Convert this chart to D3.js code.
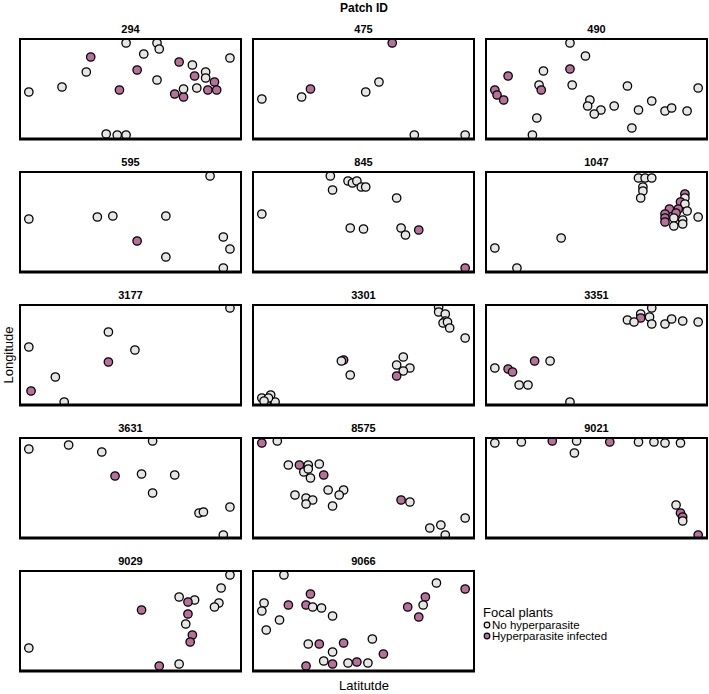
<!DOCTYPE html>
<html><head><meta charset="utf-8">
<script src="https://cdn.jsdelivr.net/npm/d3@7/dist/d3.min.js"></script>
<style>html,body{margin:0;padding:0;background:#fff;} svg{display:block;}</style>
</head><body>
<script>
// Patch IDs (facet order)
const patchIds = ["294","475","490","595","845","1047","3177","3301","3351","3631","8575","9021","9029","9066"];
// Each point: [latitude (relative), longitude (relative), infected 0/1]
const p294 = [[4,47,0],[19,52,0],[30,67,0],[32,82,1],[45,49,1],[48,96,0],[53,69,1],[56,85,0],[62,96,0],[63,90,0],[62,59,0],[72,77,1],[78,74,0],[70,45,1],[74,42,1],[74,50,0],[79,63,1],[84,67,0],[84,61,0],[80,51,0],[85,49,1],[88,57,1],[89,49,1],[95,81,0],[39,5,0],[44,4,0],[48,4,0]];
const p475 = [[4,40,0],[22,42,0],[26,50,1],[51,47,0],[57,57,0],[63,96,1],[73,4,0],[96,4,0]];
const p490 = [[38,96,0],[45,83,0],[38,70,1],[26,68,0],[10,63,1],[4,49,1],[5,44,1],[8,39,1],[24,54,0],[25,49,1],[39,54,0],[23,21,0],[21,4,0],[47,39,0],[46,33,0],[52,29,0],[49,25,0],[58,33,0],[64,53,0],[69,29,0],[66,11,0],[75,38,0],[81,28,0],[84,31,0],[91,28,0],[96,51,0]];
const p595 = [[4,53,0],[35,55,0],[42,56,0],[66,56,0],[53,31,1],[66,15,0],[86,96,0],[92,35,0],[95,23,0],[92,4,0]];
const p845 = [[4,58,0],[35,96,0],[36,82,0],[43,91,0],[45,89,0],[47,91,0],[49,85,0],[51,85,0],[65,74,0],[44,44,0],[50,43,0],[67,44,0],[69,37,0],[75,42,1],[96,4,1]];
const p1047 = [[4,24,0],[14,4,0],[34,34,0],[69,94,0],[72,94,0],[75,94,0],[71,85,0],[71,81,0],[70,74,0],[90,78,1],[90,74,0],[88,70,1],[90,68,0],[83,63,1],[87,63,1],[91,61,0],[81,58,1],[86,59,1],[85,54,0],[81,54,1],[81,50,1],[85,46,0],[89,52,0],[89,48,0],[96,55,0]];
const p3177 = [[95,97,0],[40,73,0],[4,58,0],[52,55,0],[40,43,1],[16,28,0],[5,14,1],[20,3,0]];
const p3301 = [[84,98,0],[84,93,0],[87,91,0],[87,84,0],[86,82,0],[88,83,0],[89,77,0],[96,67,0],[41,45,1],[40,44,0],[44,30,0],[68,48,0],[65,40,0],[71,37,0],[68,34,0],[65,29,1],[4,7,0],[8,10,0],[10,3,0],[6,2,0],[7,7,0],[5,4,0]];
const p3351 = [[75,97,0],[70,91,0],[70,87,1],[74,88,0],[64,85,0],[67,83,0],[75,81,0],[81,81,0],[84,86,0],[89,84,0],[96,83,0],[4,37,0],[10,36,1],[12,33,1],[22,44,1],[29,44,0],[15,20,0],[19,20,0],[38,3,0]];
const p3631 = [[4,89,0],[22,93,0],[37,86,0],[60,97,0],[43,62,1],[55,64,0],[70,63,0],[60,45,0],[81,25,0],[83,26,0],[95,31,0],[92,3,0]];
const p8575 = [[4,95,1],[11,97,0],[16,73,0],[21,73,1],[25,73,0],[30,74,0],[23,66,0],[25,69,0],[26,60,0],[32,63,1],[19,43,0],[24,40,0],[27,38,0],[24,34,0],[34,48,0],[41,48,0],[39,43,0],[36,32,0],[67,38,1],[71,36,0],[96,20,0],[85,13,0],[80,10,0],[87,3,0]];
const p9021 = [[4,95,0],[16,96,0],[30,97,1],[41,97,0],[56,96,1],[69,96,0],[76,96,0],[81,95,0],[88,95,0],[40,85,0],[86,33,0],[88,25,1],[89,21,1],[89,17,0],[96,3,1]];
const p9029 = [[95,96,0],[91,83,0],[72,74,0],[79,71,0],[76,69,1],[90,68,0],[88,64,0],[55,61,1],[76,57,1],[75,47,0],[78,36,1],[77,29,1],[4,23,0],[72,7,0],[63,5,1]];
const p9066 = [[14,96,0],[83,88,0],[96,82,1],[26,77,1],[78,74,1],[77,66,0],[70,64,1],[75,54,1],[5,68,0],[4,60,0],[16,66,1],[24,66,1],[27,64,0],[31,63,0],[36,55,0],[12,51,0],[6,41,0],[25,27,0],[30,27,1],[41,28,1],[54,32,0],[36,19,0],[59,17,1],[32,10,0],[36,7,1],[43,8,0],[47,9,1],[52,8,0],[24,5,1]];
const patchPoints = [p294,p475,p490,p595,p845,p1047,p3177,p3301,p3351,p3631,p8575,p9021,p9029,p9066];
const statusLabels = ["No hyperparasite","Hyperparasite infected"];
const statusColors = ["#e6e6e6","#b8709b"];

const W = 709, H = 694;
const svg = d3.select("body").append("svg").attr("width", W).attr("height", H);
const font = "'Liberation Sans', Arial, Helvetica, sans-serif";

const colLefts = [20, 253, 486], pw = 221, ph = 100;
const rowTops = [39, 172, 305, 438, 571];

patchIds.forEach((id, i) => {
  const c = i % 3, r = Math.floor(i / 3);
  const x0 = colLefts[c], y0 = rowTops[r];
  const x = d3.scaleLinear().domain([0, 100]).range([x0, x0 + pw]);
  const y = d3.scaleLinear().domain([0, 100]).range([y0 + ph, y0]);
  const g = svg.append("g");
  const clipId = "clip" + i;
  svg.append("clipPath").attr("id", clipId).append("rect")
    .attr("x", x0).attr("y", y0).attr("width", pw).attr("height", ph);
  g.append("g").attr("clip-path", `url(#${clipId})`)
    .selectAll("circle").data(patchPoints[i]).join("circle")
    .attr("cx", d => x(d[0])).attr("cy", d => y(d[1])).attr("r", 4.2)
    .attr("fill", d => statusColors[d[2]])
    .attr("stroke", "#000").attr("stroke-width", 1.3);
  g.append("rect").attr("x", x0).attr("y", y0).attr("width", pw).attr("height", ph)
    .attr("fill", "none").attr("stroke", "#000").attr("stroke-width", 2);
  g.append("line").attr("x1", x0 - 1).attr("x2", x0 + pw + 1).attr("y1", y0 + ph).attr("y2", y0 + ph)
    .attr("stroke", "#000").attr("stroke-width", 3);
  g.append("text").attr("x", x0 + pw / 2).attr("y", y0 - 6).attr("text-anchor", "middle")
    .attr("font-family", font).attr("font-weight", "bold").attr("font-size", 11).text(id);
});

svg.append("text").attr("x", 364).attr("y", 12).attr("text-anchor", "middle")
  .attr("font-family", font).attr("font-weight", "bold").attr("font-size", 12).text("Patch ID");
svg.append("text").attr("transform", "translate(13,355) rotate(-90)").attr("text-anchor", "middle")
  .attr("font-family", font).attr("font-size", 13).text("Longitude");
svg.append("text").attr("x", 364).attr("y", 690).attr("text-anchor", "middle")
  .attr("font-family", font).attr("font-size", 13).text("Latitutde");

const lg = svg.append("g");
lg.append("text").attr("x", 483).attr("y", 617).attr("font-family", font).attr("font-size", 13).text("Focal plants");
statusLabels.forEach((lab, k) => {
  const cy = 625 + k * 11;
  lg.append("circle").attr("cx", 487).attr("cy", cy).attr("r", 2.8)
    .attr("fill", statusColors[k]).attr("stroke", "#000").attr("stroke-width", 1.2);
  lg.append("text").attr("x", 492).attr("y", cy + 4).attr("font-family", font).attr("font-size", 11.5).text(lab);
});
</script>
</body></html>
